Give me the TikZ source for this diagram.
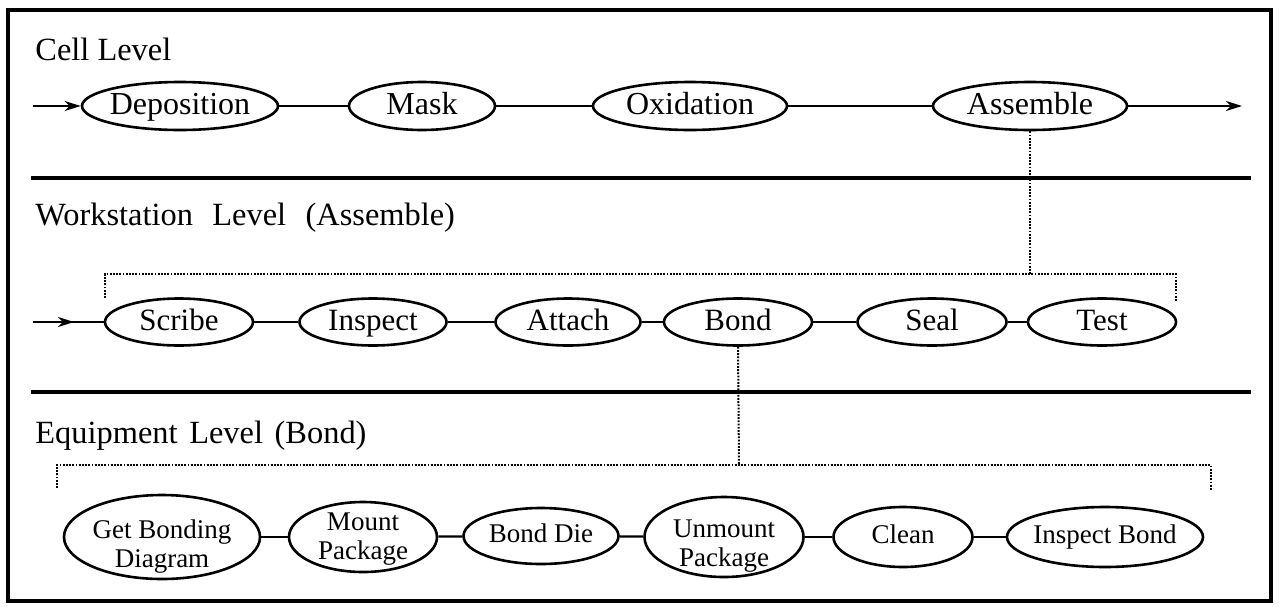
\documentclass[tikz,border=0pt]{standalone}
\usepackage{fontspec}
\setmainfont{Liberation Serif}
\usetikzlibrary{shapes.geometric,arrows.meta}
\begin{document}
\begin{tikzpicture}[x=0.5pt,y=-0.5pt,
  proc/.style={ellipse,draw,line width=1.3pt,inner sep=0pt},
  conn/.style={line width=1.1pt},
  arr/.style={line width=1.1pt,-{Stealth[length=8pt,width=5pt,inset=2.5pt]}},
  divider/.style={line width=2.2pt},
  frame/.style={line width=1.6pt},
  dots/.style={line width=1pt,dash pattern=on 0.9pt off 0.7pt},
  head/.style={anchor=base west,inner sep=0pt,font=\fontsize{16.2pt}{19pt}\selectfont},
  tone/.style={font=\fontsize{16pt}{19pt}\selectfont,text height=11pt,text depth=3pt,inner sep=0pt},
  ttwo/.style={font=\fontsize{15.5pt}{18pt}\selectfont,text height=11pt,text depth=3pt,inner sep=0pt},
  tthree/.style={font=\fontsize{13.5pt}{14.5pt}\selectfont,text height=9.5pt,text depth=2.7pt,inner sep=0pt},
  tmulti/.style={font=\fontsize{13.5pt}{14.5pt}\selectfont,align=center,inner sep=0pt},
]
\useasboundingbox (0,0) rectangle (1280,606);
\fill[white] (0,0) rectangle (1280,606);

% frame and dividers
\draw[frame] (8,10) rectangle (1271,601);
\draw[divider] (31,178) -- (1251,178);
\draw[divider] (31,392) -- (1251,392);

% headings
\node[head] (h1) at (35,60) {Cell Level};
\node[head] (h2) at (35,225) {Workstation\hspace{0.6em}Level\hspace{0.6em}(Assemble)};
\node[head] (h3) at (35,443) {Equipment\hspace{0.36em}Level\hspace{0.36em}(Bond)};

% row 1
\node[proc,minimum width=98pt,minimum height=24pt] (dep) at (180,106) {};
\node[proc,minimum width=73pt,minimum height=24pt] (mask) at (422,106) {};
\node[proc,minimum width=97pt,minimum height=24pt] (oxi) at (690,106) {};
\node[proc,minimum width=97pt,minimum height=24pt] (asm) at (1030,106) {};
\node[tone] (dep-t) at (dep) {Deposition};
\node[tone] (mask-t) at (mask) {Mask};
\node[tone] (oxi-t) at (oxi) {Oxidation};
\node[tone] (asm-t) at (asm) {Assemble};
\coordinate (in1) at (33,106);
\coordinate (out1) at (1242,106);
\draw[arr] (in1) -- (dep);
\draw[conn] (dep) -- (mask);
\draw[conn] (mask) -- (oxi);
\draw[conn] (oxi) -- (asm);
\draw[arr] (asm) -- (out1);

% row 2
\node[proc,minimum width=74pt,minimum height=23.5pt] (scr) at (179,322) {};
\node[proc,minimum width=73.5pt,minimum height=23.5pt] (ins) at (373,322) {};
\node[proc,minimum width=72.5pt,minimum height=23.5pt] (att) at (568,322) {};
\node[proc,minimum width=74pt,minimum height=23.5pt] (bnd) at (738,322) {};
\node[proc,minimum width=74.5pt,minimum height=23.5pt] (seal) at (932,322) {};
\node[proc,minimum width=74pt,minimum height=23.5pt] (test) at (1102,322) {};
\node[ttwo] (scr-t) at (scr) {Scribe};
\node[ttwo] (ins-t) at (ins) {Inspect};
\node[ttwo] (att-t) at (att) {Attach};
\node[ttwo] (bnd-t) at (bnd) {Bond};
\node[ttwo] (seal-t) at (seal) {Seal};
\node[ttwo] (test-t) at (test) {Test};
\coordinate (in2) at (33,322);
\coordinate (in2tip) at (74,322);
\draw[conn] (in2) -- (scr);
\draw[arr] (in2) -- (in2tip);
\draw[conn] (scr) -- (ins);
\draw[conn] (ins) -- (att);
\draw[conn] (att) -- (bnd);
\draw[conn] (bnd) -- (seal);
\draw[conn] (seal) -- (test);

% bracket 1
\coordinate (b1) at (1030,274);
\coordinate (b1l) at (105,274);
\coordinate (b1ld) at (105,298);
\coordinate (b1r) at (1176,274);
\coordinate (b1rd) at (1176,302);
\draw[dots] (asm.south) -- (b1);
\draw[dots] (b1ld) -- (b1l) -- (b1r) -- (b1rd);

% row 3
\node[proc,minimum width=98pt,minimum height=42pt] (gbd) at (162,537) {};
\node[proc,minimum width=74pt,minimum height=35pt] (mnt) at (363,537) {};
\node[proc,minimum width=77.5pt,minimum height=28pt] (bdie) at (541,536) {};
\node[proc,minimum width=79.5pt,minimum height=40pt] (umnt) at (724,537) {};
\node[proc,minimum width=69.5pt,minimum height=30pt] (cln) at (903,537) {};
\node[proc,minimum width=98pt,minimum height=30pt] (ibnd) at (1105,537) {};
\node[tmulti,yshift=-5pt] (gbd-t) at (gbd) {Get Bonding\\Diagram};
\node[tmulti,yshift=-1pt] (mnt-t) at (mnt) {Mount\\Package};
\node[tthree] (bdie-t) at (bdie) {Bond Die};
\node[tmulti,yshift=-4.5pt] (umnt-t) at (umnt) {Unmount\\Package};
\node[tthree] (cln-t) at (cln) {Clean};
\node[tthree] (ibnd-t) at (ibnd) {Inspect Bond};
\draw[conn] (gbd) -- (mnt);
\draw[conn] (mnt) -- (bdie);
\draw[conn] (bdie) -- (umnt);
\draw[conn] (umnt) -- (cln);
\draw[conn] (cln) -- (ibnd);

% bracket 2
\coordinate (b2) at (739,465);
\coordinate (b2l) at (57,465);
\coordinate (b2ld) at (57,488);
\coordinate (b2r) at (1211,465);
\coordinate (b2rd) at (1211,490);
\draw[dots] (bnd.south) -- (b2);
\draw[dots] (b2ld) -- (b2l) -- (b2r) -- (b2rd);
\end{tikzpicture}
\end{document}
